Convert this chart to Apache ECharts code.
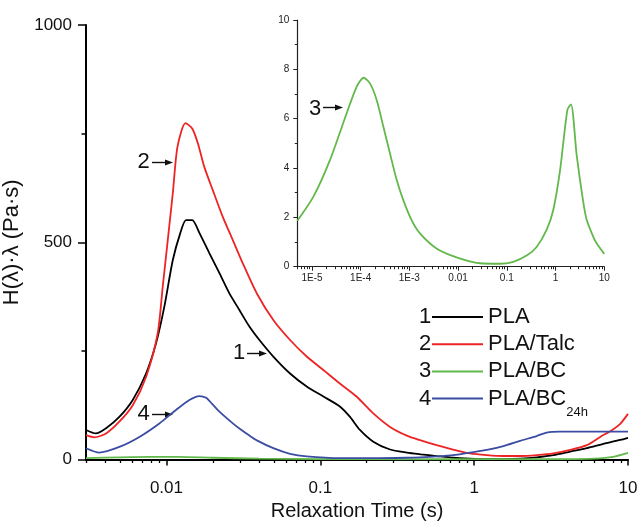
<!DOCTYPE html>
<html><head><meta charset="utf-8">
<script src="https://cdn.jsdelivr.net/npm/echarts@6/dist/echarts.min.js"></script>
<style>html,body{margin:0;padding:0;background:#fff}#c{width:637px;height:521px}</style>
</head><body><div id="c"></div>
<script>
const FONT = '"Liberation Sans", Arial, Helvetica, sans-serif';

// ---------- main chart data: relaxation time (s) vs H(λ)·λ (Pa·s) ----------
const plaTime  = [0.003,0.00348,0.00405,0.00494,0.00604,0.00737,0.00855,0.00969,0.0110,0.0123,0.0134,0.0147,0.0164,0.0190,0.0221,0.0256,0.0298,0.0346,0.0402,0.0495,0.0636,0.0816,0.1047,0.134,0.156,0.181,0.221,0.284,0.365,0.45,0.57,0.73,0.94,1.2,1.55,2.0,2.55,3.28,4.21,5.4,6.94,8.9,10];
const plaValue = [68,60,72,98,137,198,267,352,459,521,551,551,521,475,429,383,344,306,275,237,198,168,145,122,98,68,41,23,16,12,8,4,2,1,1,2,5,10,18,26,36,45,50];

const talcTime  = [0.003,0.0034,0.00405,0.00494,0.00604,0.00737,0.00877,0.00946,0.0102,0.0110,0.0118,0.0133,0.0147,0.0160,0.0176,0.0200,0.0232,0.0270,0.0313,0.0387,0.0495,0.0636,0.0816,0.1047,0.134,0.172,0.221,0.284,0.365,0.45,0.57,0.73,0.94,1.21,1.55,2.0,2.55,3.28,4.21,5.4,6.6,7.9,8.9,10];
const talcValue = [56,51,60,87,125,190,290,398,505,613,720,774,762,728,674,620,559,505,452,382,321,275,237,206,175,145,106,75,55,44,33,23,14,10,8,8,10,14,22,33,52,68,82,105];

const bcTime  = [0.003,0.005,0.008,0.012,0.02,0.04,0.1,0.3,1,2,4,6,8,10];
const bcValue = [3,5,6,6,4,2,1,0.5,0.8,1,1,2,6,15];

const bc24Time  = [0.003,0.00366,0.00494,0.00667,0.0090,0.01154,0.0141,0.01636,0.0181,0.0198,0.0221,0.0270,0.0301,0.0346,0.0387,0.0495,0.0636,0.0816,0.134,0.221,0.365,0.446,0.572,0.733,0.94,1.21,1.55,1.99,2.55,2.96,3.6,10];
const bc24Value = [26,16,29,52,83,114,137,146,142,128,110,83,70,55,44,26,13,7,3,3,4,5,7,10,16,22,31,43,54,62,64,64];

// ---------- inset data: PLA/BC ----------
const insetTime  = [5e-6,1.07e-5,2.34e-5,5.16e-5,8.3e-5,1.15e-4,1.55e-4,2.13e-4,2.92e-4,4.0e-4,5.5e-4,7.5e-4,1.11e-3,1.65e-3,3.6e-3,9.3e-3,0.028,0.072,0.136,0.256,0.41,0.66,0.90,1.24,1.75,2.08,2.73,3.7,4.37,6.0,7.0,10];
const insetValue = [1.86,2.84,4.32,6.22,7.30,7.66,7.43,6.76,5.68,4.59,3.51,2.70,1.89,1.35,0.74,0.38,0.14,0.12,0.20,0.45,0.80,1.50,2.30,3.90,6.35,6.58,4.50,2.65,1.90,1.20,0.95,0.52];

// ---------- ticks / labels ----------
const mainXRange = [0.003, 10];
const mainXTicks = [0.01, 0.1, 1, 10];
const mainXLabels = ['0.01', '0.1', '1', '10'];
const insetXRange = [5e-6, 10];
const insetXTicks = [1e-5, 1e-4, 1e-3, 0.01, 0.1, 1, 10];
const insetXLabels = ['1E-5', '1E-4', '1E-3', '0.01', '0.1', '1', '10'];
const seriesNames = ['PLA', 'PLA/Talc', 'PLA/BC', 'PLA/BC24h'];
const seriesColors = ['#000000', '#ee2424', '#62b84a', '#3b4ca3'];

const lg = v => Math.log10(v);
function minorTicks(range) {
  const out = [];
  for (let e = Math.floor(lg(range[0])); e <= Math.ceil(lg(range[1])); e++) {
    for (let m = 2; m <= 9; m++) {
      const v = m * Math.pow(10, e);
      if (v >= range[0] * 0.999999 && v <= range[1] * 1.000001) out.push(lg(v));
    }
  }
  return out;
}
function labeler(ticks, labels) {
  return v => {
    for (let i = 0; i < ticks.length; i++) if (Math.abs(lg(ticks[i]) - v) < 1e-6) return labels[i];
    return '';
  };
}
const pairs = (t, v) => t.map((x, i) => [lg(x), v[i]]);

const chart = echarts.init(document.getElementById('c'), null, {renderer: 'canvas'});

const axisLineMain = {show: true, onZero: false, lineStyle: {color: '#000', width: 2}};
const axisLineInset = {show: true, onZero: false, lineStyle: {color: '#222', width: 1.2}};

const option = {
  animation: false,
  backgroundColor: '#fff',
  textStyle: {fontFamily: FONT},
  grid: [
    {left: 86, right: 9, top: 25, bottom: 61.5, containLabel: false, outerBoundsMode: 'none'},
    {left: 297.3, top: 20, width: 306.9, height: 246.7, containLabel: false, outerBoundsMode: 'none'}
  ],
  xAxis: [
    { // main major
      type: 'value', gridIndex: 0, position: 'bottom', offset: 0,
      min: lg(mainXRange[0]), max: lg(mainXRange[1]),
      axisLine: axisLineMain,
      axisTick: {show: true, length: 6, lineStyle: {color: '#000', width: 1.5}, customValues: mainXTicks.map(lg)},
      axisLabel: {show: true, fontSize: 17, color: '#111', fontFamily: FONT, margin: 20,
        customValues: mainXTicks.map(lg), formatter: labeler(mainXTicks, mainXLabels)},
      splitLine: {show: false},
      name: 'Relaxation Time (s)', nameLocation: 'middle', nameGap: 37,
      nameTextStyle: {fontSize: 20, color: '#111', fontFamily: FONT}
    },
    { // main minor ticks
      type: 'value', gridIndex: 0, position: 'bottom', offset: 0,
      min: lg(mainXRange[0]), max: lg(mainXRange[1]),
      axisLine: {show: false},
      axisTick: {show: true, length: 3.5, lineStyle: {color: '#000', width: 1.3}, customValues: minorTicks(mainXRange)},
      axisLabel: {show: false}, splitLine: {show: false}
    },
    { // inset major
      type: 'value', gridIndex: 1, position: 'bottom', offset: 0,
      min: lg(insetXRange[0]), max: lg(insetXRange[1]),
      axisLine: axisLineInset,
      axisTick: {show: true, length: 4, lineStyle: {color: '#222', width: 1}, customValues: insetXTicks.map(lg)},
      axisLabel: {show: true, fontSize: 10, color: '#222', fontFamily: FONT, margin: 7,
        customValues: insetXTicks.map(lg), formatter: labeler(insetXTicks, insetXLabels)},
      splitLine: {show: false}
    },
    { // inset minor
      type: 'value', gridIndex: 1, position: 'bottom', offset: 0,
      min: lg(insetXRange[0]), max: lg(insetXRange[1]),
      axisLine: {show: false},
      axisTick: {show: true, length: 2.5, lineStyle: {color: '#222', width: 1}, customValues: minorTicks(insetXRange)},
      axisLabel: {show: false}, splitLine: {show: false}
    }
  ],
  yAxis: [
    {
      type: 'value', gridIndex: 0, min: 0, max: 1000, interval: 500,
      axisLine: axisLineMain,
      axisTick: {show: true, length: 8, lineStyle: {color: '#000', width: 1.5}},
      minorTick: {show: true, splitNumber: 2, length: 4.5, lineStyle: {color: '#000', width: 1.5}},
      axisLabel: {fontSize: 17, color: '#111', fontFamily: FONT, margin: 14, formatter: v => String(v)},
      splitLine: {show: false}, minorSplitLine: {show: false},
      name: 'H(λ)·λ (Pa·s)', nameLocation: 'middle', nameGap: 52, nameRotate: 90,
      nameTextStyle: {fontSize: 22, color: '#111', fontFamily: FONT}
    },
    {
      type: 'value', gridIndex: 1, min: 0, max: 10, interval: 2,
      axisLine: axisLineInset,
      axisTick: {show: true, length: 4, lineStyle: {color: '#222', width: 1}},
      minorTick: {show: true, splitNumber: 2, length: 2.5, lineStyle: {color: '#222', width: 1}},
      axisLabel: {fontSize: 10, color: '#222', fontFamily: FONT, margin: 8, formatter: v => String(v)},
      splitLine: {show: false}, minorSplitLine: {show: false}
    }
  ],
  legend: {
    orient: 'vertical', left: 432, top: 306, padding: 0, itemWidth: 51, itemHeight: 2, itemGap: 5.2,
    icon: 'rect', selectedMode: false,
    data: seriesNames,
    formatter: n => n === 'PLA/BC24h' ? '{a|PLA/BC}{s|24h}' : '{a|' + n + '}',
    textStyle: {fontFamily: FONT, fontSize: 22, color: '#111',
      rich: {
        a: {fontFamily: FONT, fontSize: 22, lineHeight: 24, color: '#111'},
        s: {fontFamily: FONT, fontSize: 13, lineHeight: 13, color: '#111', verticalAlign: 'bottom', padding: [0, 0, -8, 0]}
      }}
  },
  series: [
    {name: seriesNames[0], type: 'line', xAxisIndex: 0, yAxisIndex: 0, data: pairs(plaTime, plaValue)},
    {name: seriesNames[1], type: 'line', xAxisIndex: 0, yAxisIndex: 0, data: pairs(talcTime, talcValue)},
    {name: seriesNames[2], type: 'line', xAxisIndex: 0, yAxisIndex: 0, data: pairs(bcTime, bcValue)},
    {name: seriesNames[3], type: 'line', xAxisIndex: 0, yAxisIndex: 0, data: pairs(bc24Time, bc24Value)},
    {name: 'PLA/BC inset', type: 'line', xAxisIndex: 2, yAxisIndex: 1, data: pairs(insetTime, insetValue)}
  ].map((s, i) => Object.assign(s, {
    showSymbol: false, symbol: 'none', smooth: 0.25, silent: true,
    color: seriesColors[i === 4 ? 2 : i],
    lineStyle: {color: seriesColors[i === 4 ? 2 : i], width: 1.8}
  })),
  graphic: []
};

// annotation labels with arrows, and legend numbers
function arrow(label, tx, ty, x1, x2, y) {
  return {type: 'group', children: [
    {type: 'text', x: tx, y: ty, style: {text: label, fontSize: 22, fontFamily: FONT, fill: '#111', align: 'center', verticalAlign: 'middle'}},
    {type: 'line', shape: {x1: x1, y1: y, x2: x2 - 5, y2: y}, style: {stroke: '#111', lineWidth: 1.4}},
    {type: 'polygon', shape: {points: [[x2 - 8, y - 3], [x2, y], [x2 - 8, y + 3]]}, style: {fill: '#111'}}
  ]};
}
option.graphic.push(arrow('2', 143.5, 162, 152, 173, 162.5));
option.graphic.push(arrow('1', 239, 353, 247, 267, 353.5));
option.graphic.push(arrow('4', 143.5, 414, 152, 173, 414.5));
option.graphic.push(arrow('3', 315, 108.5, 323, 343, 107.5));
['1', '2', '3', '4'].forEach((n, i) => {
  option.graphic.push({type: 'text', x: 425, y: 317 + i * 27.2, style: {text: n, fontSize: 22, fontFamily: FONT, fill: '#111', align: 'center', verticalAlign: 'middle'}});
});

chart.setOption(option);
</script>
</body></html>
